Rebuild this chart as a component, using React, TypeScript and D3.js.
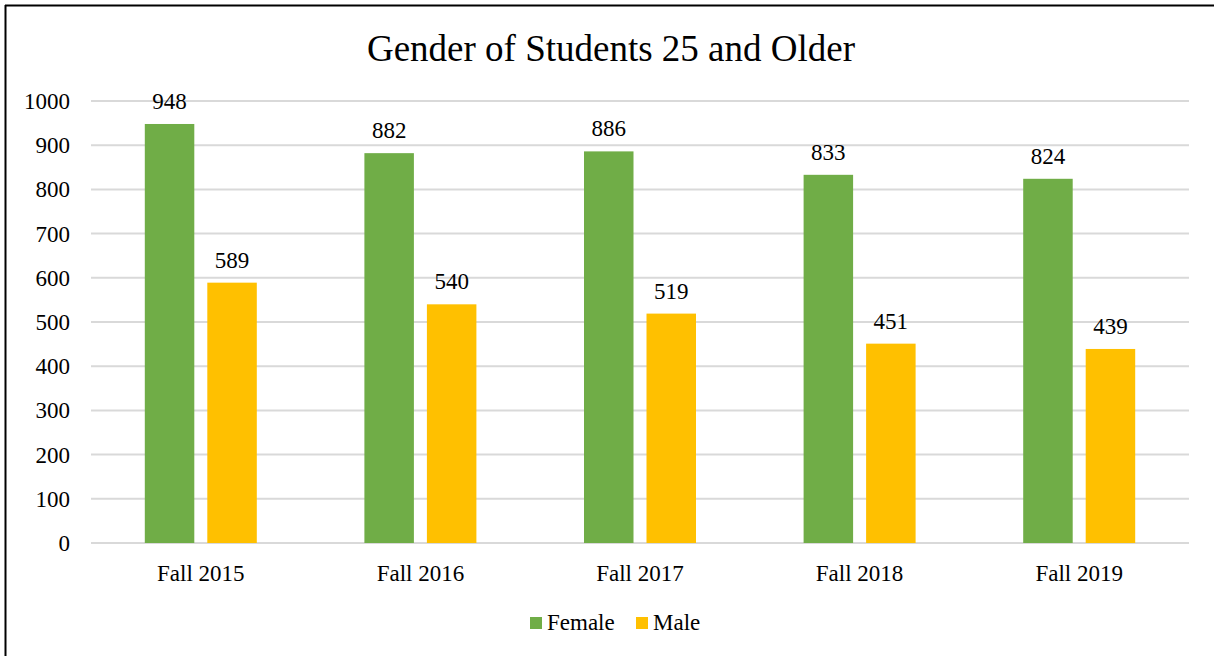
import React from "react";
import * as d3 from "d3";

const categories = ["Fall 2015", "Fall 2016", "Fall 2017", "Fall 2018", "Fall 2019"];
const series = ["Female", "Male"];
const female = [948, 882, 886, 833, 824];
const male = [589, 540, 519, 451, 439];
const yTicks = [0, 100, 200, 300, 400, 500, 600, 700, 800, 900, 1000];
const colors = ["#70AD47", "#FFC000"];
const title = "Gender of Students 25 and Older";

export default function App() {
  const W = 1214, H = 656;
  const left = 91, right = 1189, top = 101, bottom = 543;
  const font = "'Liberation Serif', 'Times New Roman', serif";
  const x0 = d3.scaleBand<string>().domain(categories).range([left, right]).paddingInner(0).paddingOuter(0);
  const y = d3.scaleLinear().domain([0, 1000]).range([bottom, top]);
  const barW = 49.5;
  const gap = 13;
  const values = [female, male];
  const fs = 23;
  return (
    <svg width={W} height={H} style={{ position: "absolute", left: 0, top: 0, background: "#fff" }}>
      <rect x={0} y={0} width={W} height={H} fill="#fff" />
      <line x1={5} x2={W} y1={5.5} y2={5.5} stroke="#000" strokeWidth={2} />
      <line x1={5.5} x2={5.5} y1={5} y2={H} stroke="#000" strokeWidth={2} />
      <text x={611} y={61} textAnchor="middle" fontFamily={font} fontSize={37} fill="#000">{title}</text>
      {yTicks.map((t) => (
        <g key={t}>
          <line x1={left} x2={right} y1={y(t)} y2={y(t)} stroke="#D9D9D9" strokeWidth={2} />
          <text x={70} y={y(t) + 8} textAnchor="end" fontFamily={font} fontSize={fs} fill="#000">{t}</text>
        </g>
      ))}
      {categories.map((c, i) => {
        const cx = (x0(c) as number) + x0.bandwidth() / 2;
        return (
          <g key={c}>
            {values.map((vals, s) => {
              const bx = s === 0 ? cx - gap / 2 - barW : cx + gap / 2;
              const v = vals[i];
              return (
                <g key={s}>
                  <rect x={bx} y={y(v)} width={barW} height={bottom - y(v)} fill={colors[s]} />
                  <text x={bx + barW / 2} y={y(v) - 15} textAnchor="middle" fontFamily={font} fontSize={fs} fill="#000">{v}</text>
                </g>
              );
            })}
            <text x={cx} y={581} textAnchor="middle" fontFamily={font} fontSize={fs} fill="#000">{c}</text>
          </g>
        );
      })}
      {series.map((s, i) => {
        const lx = i === 0 ? 530 : 636;
        return (
          <g key={s}>
            <rect x={lx} y={617} width={12} height={12} fill={colors[i]} />
            <text x={lx + 17} y={630} fontFamily={font} fontSize={fs} fill="#000">{s}</text>
          </g>
        );
      })}
    </svg>
  );
}
